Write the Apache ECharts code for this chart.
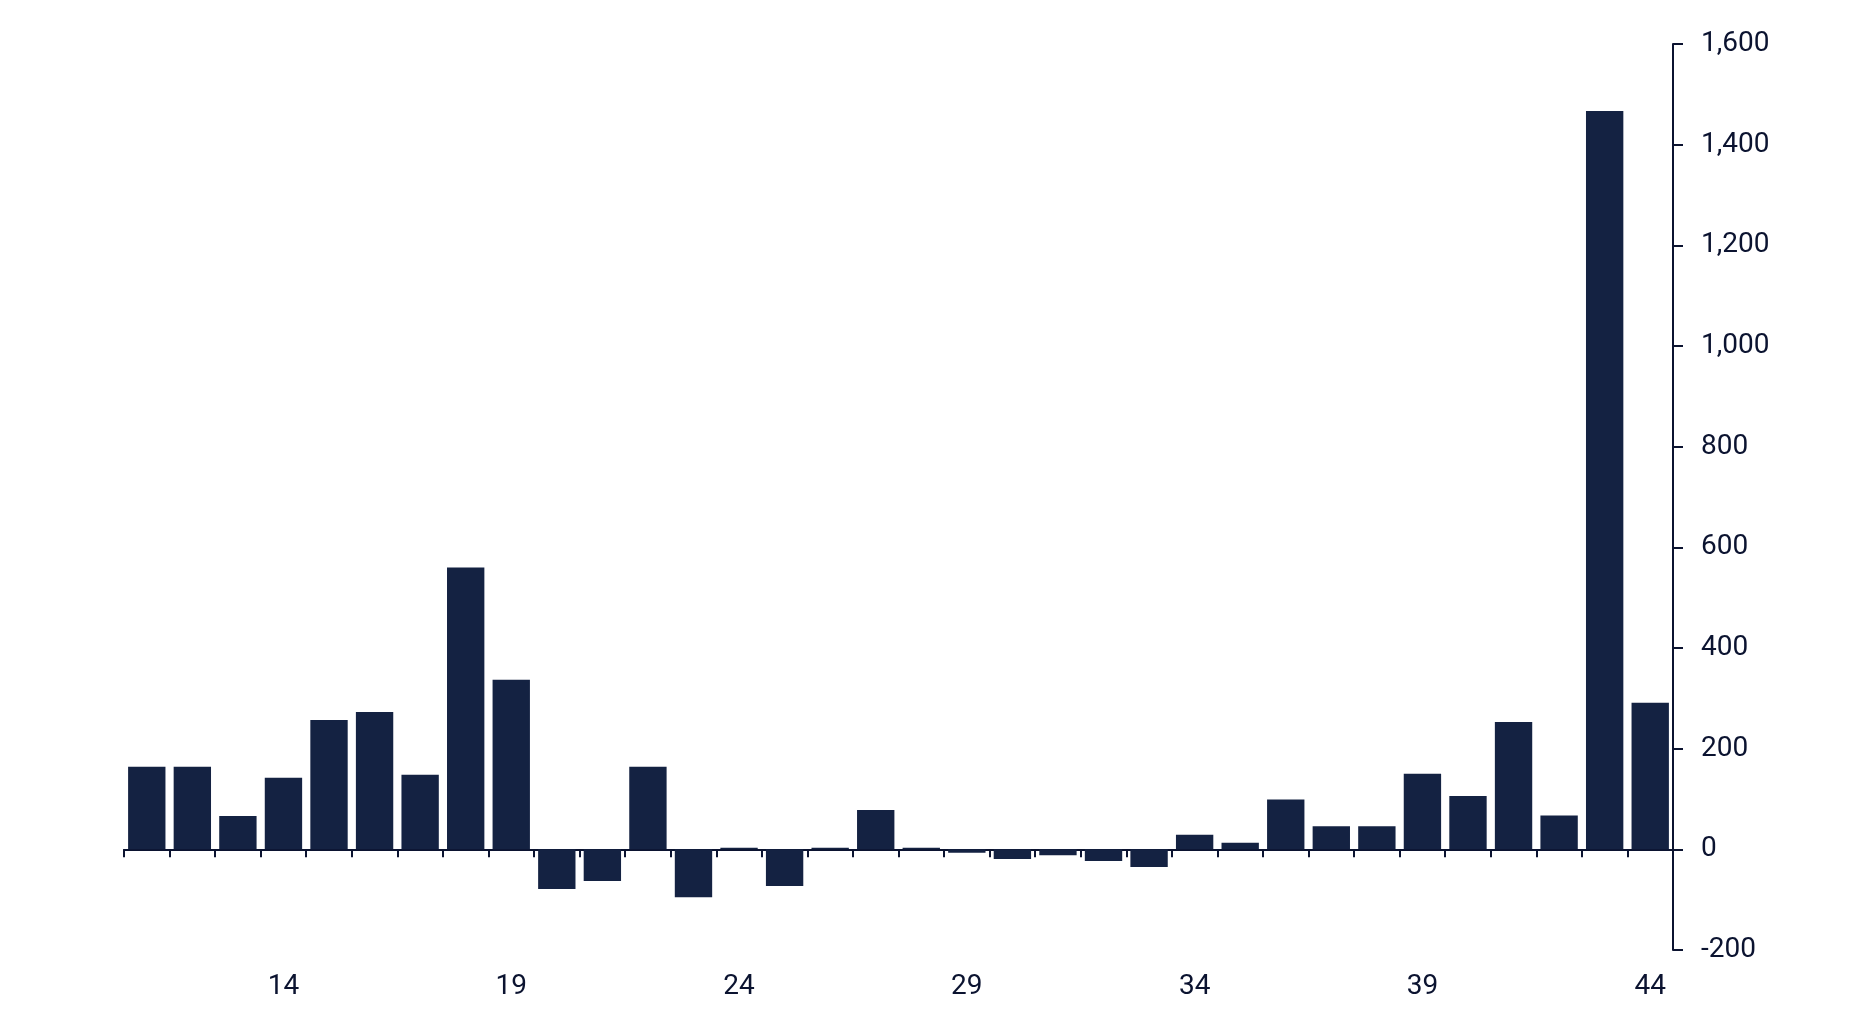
<!DOCTYPE html>
<html>
<head>
<meta charset="utf-8">
<script src="https://cdn.jsdelivr.net/npm/echarts@6/dist/echarts.min.js"></script>
<style>
html,body{margin:0;padding:0;background:#fff;}
#chart{width:1854px;height:1012px;}
</style>
</head>
<body>
<div id="chart"></div>
<script>
var categories = ['11','12','13','14','15','16','17','18','19','20','21','22','23','24','25','26','27','28','29','30','31','32','33','34','35','36','37','38','39','40','41','42','43','44'];
var values = [164,164,66,142,257,273,148,560,337,-79,-63,164,-95,3,-73,3,78,3,-7,-19,-12,-23,-35,29,13,99,46,46,150,106,253,67,1467,291];
var yMin = -200, yMax = 1600, yStep = 200;

var ink = '#0b1330';
var barColor = '#142242';
var chart = echarts.init(document.getElementById('chart'));
chart.setOption({
  animation: false,
  grid: {left: 124, right: 181, top: 44, bottom: 62, containLabel: false, outerBoundsMode: 'none'},
  xAxis: {
    type: 'category',
    data: categories,
    boundaryGap: true,
    axisLine: {show: true, onZero: true, lineStyle: {color: ink, width: 2}},
    axisTick: {show: true, interval: 0, length: 8, lineStyle: {color: ink, width: 2}},
    axisLabel: {
      interval: function (i) { return (i - 3) % 5 === 0; },
      margin: 23,
      color: ink,
      fontFamily: 'Roboto',
      fontSize: 28
    },
    splitLine: {show: false}
  },
  yAxis: {
    type: 'value',
    position: 'right',
    min: yMin, max: yMax, interval: yStep,
    axisLine: {show: true, lineStyle: {color: ink, width: 2}},
    axisTick: {show: true, inside: false, length: 10, lineStyle: {color: ink, width: 2}},
    axisLabel: {
      margin: 28,
      color: ink,
      fontFamily: 'Roboto',
      fontSize: 28,
      formatter: function (v) { return v.toLocaleString('en-US'); }
    },
    splitLine: {show: false}
  },
  series: [{
    type: 'bar',
    data: values,
    barCategoryGap: '18%',
    itemStyle: {color: barColor}
  }]
});
</script>
</body>
</html>
